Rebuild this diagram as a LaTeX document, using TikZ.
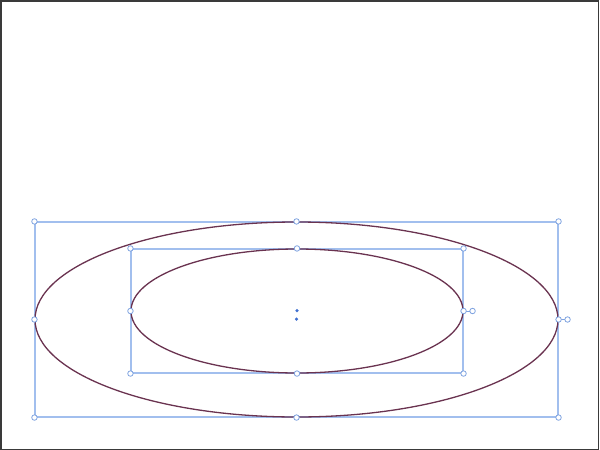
\documentclass[tikz,border=0pt]{standalone}
\usepackage{xcolor}
\usetikzlibrary{shapes.geometric}
\definecolor{framegray}{HTML}{3A3A3A}
\definecolor{selblue}{HTML}{A2BFEE}
\definecolor{handleblue}{HTML}{7FA3E0}
\definecolor{curvepurple}{HTML}{6A3350}
\definecolor{dotblue}{HTML}{3F6FCF}
\begin{document}
\begin{tikzpicture}[
      x = 1pt, y = -1pt,
      box/.style = {draw = selblue, line width = 1.1pt, rectangle, inner sep = 0pt},
      oval/.style = {draw = curvepurple, line width = 1.3pt, ellipse, inner sep = 0pt},
      handle/.style = {draw = handleblue, fill = white, circle, inner sep = 0pt, minimum size = 5.5pt, line width = 0.8pt},
      pin/.style = {fill = dotblue, circle, inner sep = 0pt, minimum size = 3.5pt}
      ]
      \useasboundingbox (0,0) rectangle (600,450);
      \draw[framegray, line width = 1.5pt] (0.75,0.75) rectangle (598.5,449.25);
      % outer selection
      \node[box, minimum width = 523pt, minimum height = 195pt] (outerbox) at (296.5,319.5) {};
      \node[oval, minimum width = 523pt, minimum height = 195pt] (outeroval) at (296.5,319.5) {};
      % inner selection
      \node[box, minimum width = 332pt, minimum height = 124pt] (innerbox) at (297,311) {};
      \node[oval, minimum width = 332pt, minimum height = 124pt] (inneroval) at (297,311) {};
      \foreach \s in {outer, inner} {
            \draw[handleblue, line width = 0.9pt] (\s box.east) -- ([xshift = 9pt]\s box.east) node[handle] (\s rot) {};
            \foreach \a/\n in {north west/nw, north/n, north east/ne, west/w, east/e, south west/sw, south/s, south east/se}
                  \node[handle] (\s-\n) at (\s box.\a) {};
            \node[pin] (\s pin) at ([yshift = 0.5pt]\s box.center) {};
      }
\end{tikzpicture}
\end{document}
